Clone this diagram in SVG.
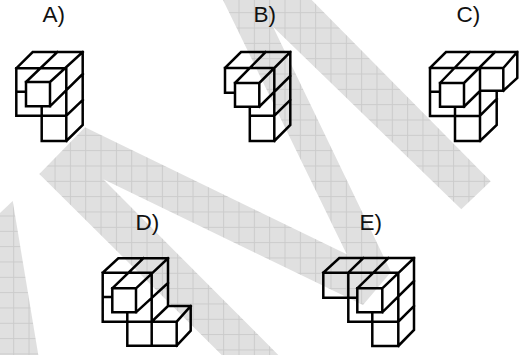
<svg xmlns="http://www.w3.org/2000/svg" width="522" height="355" viewBox="0 0 522 355">
<style>
.l{fill:none;stroke:#000;stroke-width:2.5;stroke-linecap:square;stroke-linejoin:miter}
text{font-family:"Liberation Sans",Arial,sans-serif;font-size:22.5px;fill:#111}
</style>
<defs>
<pattern id="g1" patternUnits="userSpaceOnUse" x="8.56" y="12.2" width="15.33" height="15.33">
<rect width="15.33" height="15.33" fill="#e0e0e0"/>
<path d="M.5 0V15.33M0 .5H15.33" stroke="#cbcbcb" stroke-width="1" fill="none"/>
</pattern>
<pattern id="g2" patternUnits="userSpaceOnUse" x="13.2" y=".88" width="15.33" height="15.33">
<rect width="15.33" height="15.33" fill="#e0e0e0"/>
<path d="M.5 0V15.33M0 .5H15.33" stroke="#cbcbcb" stroke-width="1" fill="none"/>
</pattern>
</defs>
<g id="watermark">
<polygon fill="url(#g1)" points="85,127.3 346.7,254.3 223,0 311.7,0 490.7,181.3 461.3,209.3 273,26.7 391,272 363,305 103.3,179.3 278.3,355 221.7,355 39.3,174"/>
<polygon fill="url(#g2)" points="12.7,201 38.3,355 0,355 0,213"/>
</g>
<g id="figure-a">
<text x="42.5" y="21.5">A)</text>
<path class="l" d="M16.3 68.3H66.3V141H41.7V106.3M16.3 68.3V115.7H66.3M16.3 91.7H26M26 82H50V106.3H26ZM16.3 68.3L32.7 52H82.7V125L66.3 141M57.3 52L26 82M82.7 52L50 82M50 106.3L82.7 74M66.3 115.7L82.7 100"/>
</g>
<g id="figure-b">
<text x="253.5" y="21.5">B)</text>
<path class="l" d="M225 68H274.3V141H249.8V106.7M249.8 115.7H274.3M225 68V92.7H235M235 83H259.3V106.7H235ZM225 68L241 52H290.3V125L274.3 141M265.6 52L235 83M290.3 52L259.3 83M259.3 106.7L290.3 76M274.3 115.7L290.3 100"/>
</g>
<g id="figure-c">
<text x="456.5" y="21.5">C)</text>
<path class="l" d="M430 68H503.3V90.7H480M480 68V141H455V106.7M430 68V116H480M430 91.7H440M440 83H464V106.7H440ZM430 68L446 52H517.3V78L503.3 90.7M470 52L440 83M495 52L464 83M517.3 52L503.3 68M464 106.7L480 91M496.7 91V125L480 141M480 115.7L496.7 99"/>
</g>
<g id="figure-d">
<text x="135.5" y="230">D)</text>
<path class="l" d="M102.7 272.7H151.7V345.7H127.3V312.3M102.7 272.7V321.7H176.7V345.7H151.7M102.7 297H112.3M112.3 288.3H136V312.3H112.3ZM102.7 272.7L118.3 258.3H168V306H190.7V330.7L176.7 345.7M143.3 258.3L112.3 288.3M168 258.3L136 288.3M136 312.3L168 283M151.7 321.7L168 306M176.7 321.7L190.7 306"/>
</g>
<g id="figure-e">
<text x="359.5" y="230">E)</text>
<path class="l" d="M323.3 272.7H398.3V346H372.3V312.3M323.3 272.7V297.7H357.3M348.3 272.7V321.7H398.3M357.3 288.3H382.3V312.3H357.3ZM323.3 272.7L339.3 258H414V330L398.3 346M363.3 258L348.3 272.7M388.3 258L357.3 288.3M414 258L382.3 288.3M382.3 312.3L414 281M398.3 321.7L414 306"/>
</g>
</svg>
